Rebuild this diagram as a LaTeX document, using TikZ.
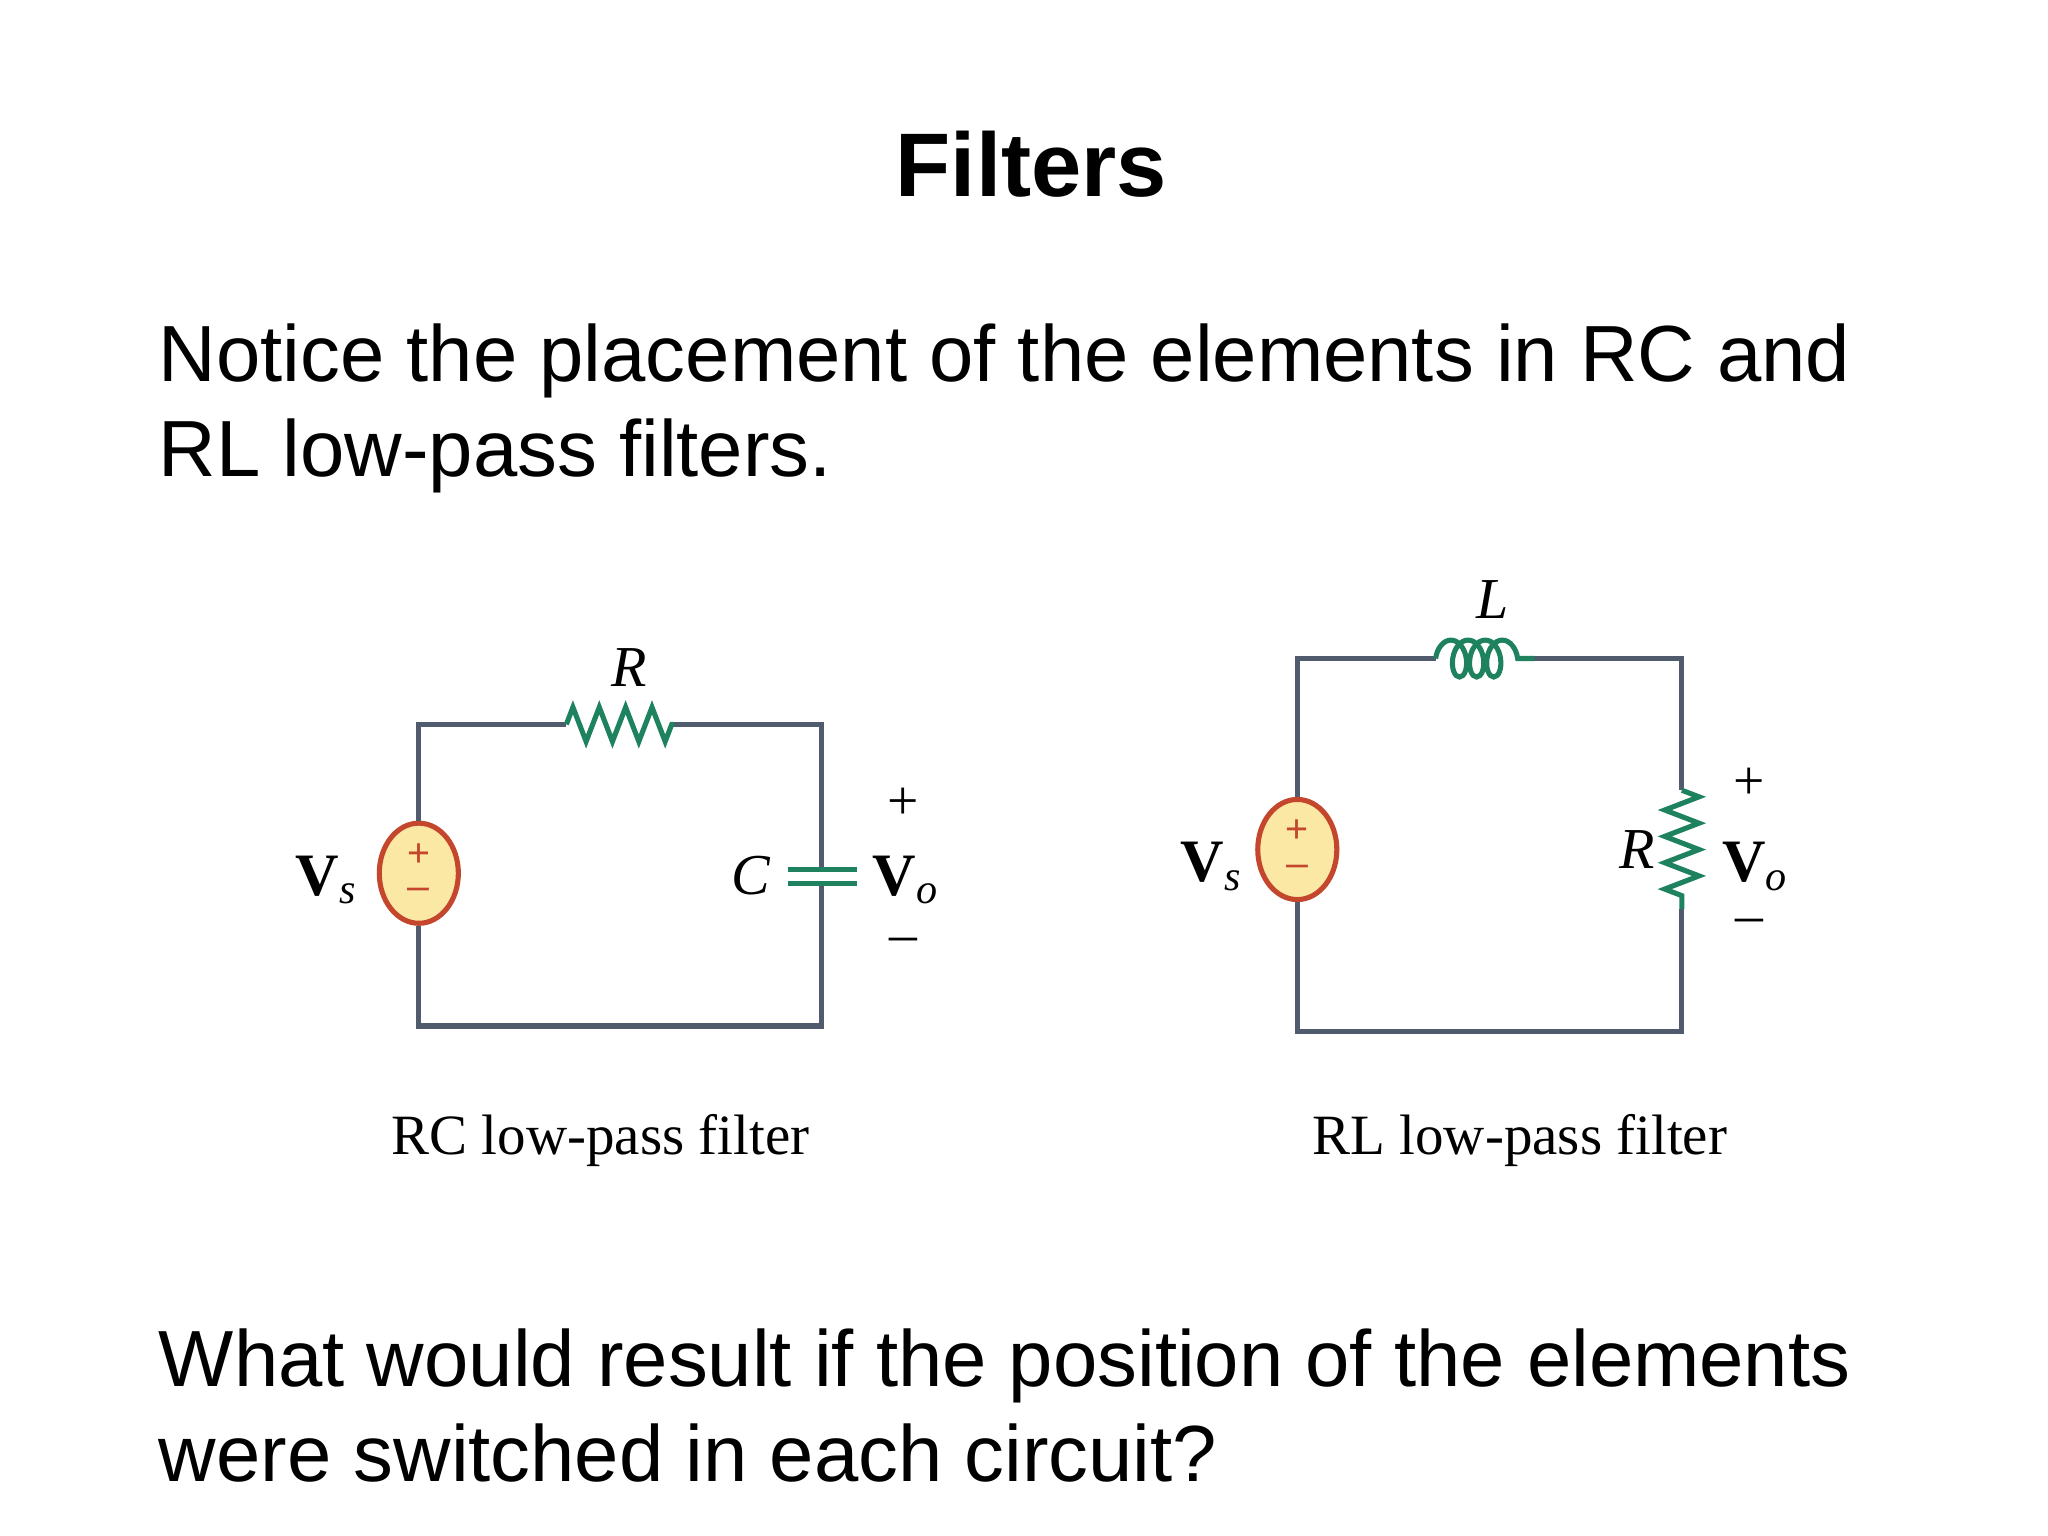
\documentclass[tikz,border=0pt]{standalone}
\usepackage{fontspec}
\setmainfont{Liberation Sans}
\newfontfamily\serif{Liberation Serif}
\usetikzlibrary{shapes.geometric,decorations.pathmorphing}
\definecolor{wire}{RGB}{80,92,110}
\definecolor{part}{RGB}{30,130,95}
\definecolor{srcfill}{RGB}{252,232,165}
\definecolor{srcline}{RGB}{195,70,45}
\tikzset{
  wire/.style={draw=wire,line width=1.1pt},
  src/.style={ellipse,draw=srcline,fill=srcfill,line width=1.1pt,minimum width=0.6cm,minimum height=0.76cm,inner sep=0pt},
  sign/.style={text=srcline,font=\fontsize{8.5}{8.5}\selectfont,inner sep=0pt},
  res/.style={draw=part,line width=1.1pt,decorate,decoration={zigzag,segment length=2mm,amplitude=1.3mm}},
  ind/.style={draw=part,line width=1.1pt,decorate,decoration={coil,segment length=1.3mm,amplitude=1.4mm,aspect=0.6}},
  lab/.style={font=\serif\fontsize{12}{12}\selectfont,inner sep=0pt},
  ilab/.style={font=\serif\itshape\fontsize{12.5}{12.5}\selectfont,inner sep=0pt},
  vlab/.style={font=\serif\bfseries\fontsize{13}{13}\selectfont,inner sep=0pt},
  body/.style={font=\fontsize{17.2}{20}\selectfont,anchor=base west,inner sep=0pt}
}
\begin{document}
\begin{tikzpicture}[x=0.01cm,y=-0.01cm]
\useasboundingbox (0,0) rectangle (1555,1166);
\node[font=\bfseries\fontsize{19.5}{20}\selectfont] (title) at (783,125) {Filters};
\node[body] (t1) at (120,290) {Notice the placement of the elements in RC and};
\node[body] (t2) at (120,362) {RL low-pass filters.};
\node[body] (t3) at (120,1053) {What would result if the position of the elements};
\node[body] (t4) at (120,1125) {were switched in each circuit?};

% RC low-pass filter
\node[src] (vs1) at (318,663) {};
\node[sign] at (318,649) {+};
\node[sign] at (318,679) {\textendash};
\coordinate (r1a) at (430,550);
\coordinate (r1b) at (512,550);
\coordinate (c1t) at (624,660);
\coordinate (c1b) at (624,671);
\draw[wire] (vs1.north) |- (r1a);
\draw[wire] (r1b) -| (c1t);
\draw[wire] (c1b) |- (318,779) -- (vs1.south);
\draw[res] (r1a) -- (r1b);
\draw[draw=part,line width=1.1pt] (598,660) -- (651,660) (598,671) -- (651,671);
\node[ilab] (R1) at (478,507) {R};
\node[ilab] (C1) at (570,665) {C};
\node[vlab] (Vs1) at (248,668) {V\textsubscript{\mdseries\itshape s}};
\node[lab] (p1) at (686,610) {+};
\node[vlab] (Vo1) at (688,668) {V\textsubscript{\mdseries\itshape o}};
\node[lab] (m1) at (686,718) {\textendash};
\node[lab,font=\serif\fontsize{12.3}{12.3}\selectfont] (cap1) at (456,866) {RC low-pass filter};

% RL low-pass filter
\node[src] (vs2) at (985,645) {};
\node[sign] at (985,631) {+};
\node[sign] at (985,661) {\textendash};
\coordinate (l2a) at (1090,500);
\coordinate (l2b) at (1165,500);
\coordinate (r2a) at (1277,600);
\coordinate (r2b) at (1277,690);
\draw[wire] (vs2.north) |- (l2a);
\draw[wire] (l2b) -| (r2a);
\draw[wire] (r2b) |- (985,783) -- (vs2.south);
\draw[ind] (l2a) -- (l2b);
\draw[res] (r2a) -- (r2b);
\node[ilab] (L2) at (1133,455) {L};
\node[ilab] (R2) at (1243,645) {R};
\node[vlab] (Vs2) at (920,658) {V\textsubscript{\mdseries\itshape s}};
\node[lab] (p2) at (1328,595) {+};
\node[vlab] (Vo2) at (1333,658) {V\textsubscript{\mdseries\itshape o}};
\node[lab] (m2) at (1328,703) {\textendash};
\node[lab,font=\serif\fontsize{12.3}{12.3}\selectfont] (cap2) at (1154,866) {RL low-pass filter};
\end{tikzpicture}
\end{document}
